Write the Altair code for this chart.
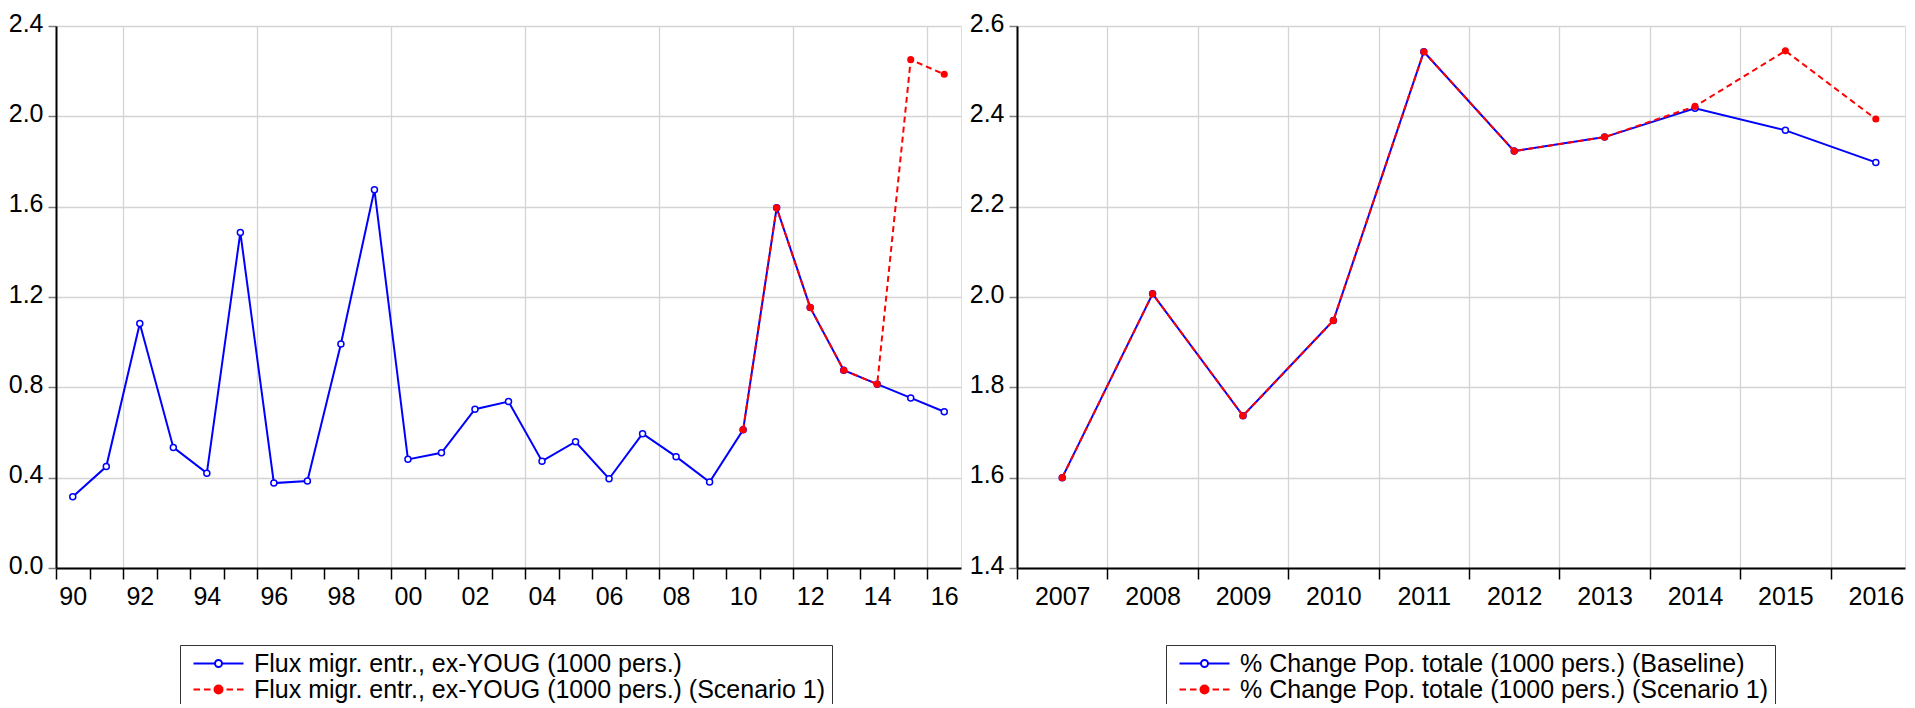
import altair as alt
import pandas as pd

# ---------------- data ----------------
left_years = list(range(1990, 2017))
flux_base = [0.315, 0.449, 1.083, 0.534, 0.420, 1.486, 0.376, 0.385, 0.992, 1.675,
             0.481, 0.510, 0.703, 0.737, 0.473, 0.559, 0.395, 0.595, 0.493, 0.381,
             0.612, 1.595, 1.154, 0.876, 0.814, 0.753, 0.692]
scen_left_years = list(range(2010, 2017))
flux_scen = [0.612, 1.595, 1.154, 0.876, 0.814, 2.251, 2.186]

right_years = list(range(2007, 2017))
pop_base = [1.600, 2.007, 1.737, 1.948, 2.543, 2.323, 2.354, 2.418, 2.369, 2.298]
pop_scen = [1.600, 2.007, 1.737, 1.948, 2.543, 2.323, 2.354, 2.422, 2.545, 2.394]

left_labels = ["Flux migr. entr., ex-YOUG (1000 pers.)",
               "Flux migr. entr., ex-YOUG (1000 pers.) (Scenario 1)"]
right_labels = ["% Change Pop. totale (1000 pers.) (Baseline)",
                "% Change Pop. totale (1000 pers.) (Scenario 1)"]

left_yticks = [0.0, 0.4, 0.8, 1.2, 1.6, 2.0, 2.4]
right_yticks = [1.4, 1.6, 1.8, 2.0, 2.2, 2.4, 2.6]

BLUE = "#0000ff"
RED = "#ff0000"
GRID = "#d4d4d4"
FONT = "Liberation Sans"

# legend symbols (line + marker), custom SVG paths
SYM_BASE = "M-5,0L-0.7,0M0.7,0L5,0M-0.7,0A0.7,0.7 0 1,0 0.7,0A0.7,0.7 0 1,0 -0.7,0Z"
SYM_SCEN = ("M-5,0L-3.7,0M-2.9,0L-1.6,0M1.6,0L2.9,0M3.7,0L5,0"
            "M-0.8,0A0.8,0.8 0 1,0 0.8,0A0.8,0.8 0 1,0 -0.8,0Z")


def panel(years_b, vals_b, years_s, vals_s, labels, xdom, xaxis, yticks, width, height, lx, ly):
    dfb = pd.DataFrame({"year": years_b, "value": vals_b})
    dfs = pd.DataFrame({"year": years_s, "value": vals_s})
    xs = alt.Scale(domain=xdom, nice=False, zero=False)
    ys = alt.Scale(domain=[yticks[0], yticks[-1]], nice=False, zero=False)
    yaxis = alt.Axis(values=yticks, format=".1f", title=None, tickSize=8, tickColor="#808080",
                     tickWidth=1.5, labelPadding=5, labelFontSize=25, labelFont=FONT,
                     labelColor="black", labelFlush=False, labelOverlap=False, labelOffset=-3,
                     domainColor="black", domainWidth=2, grid=True, gridColor=GRID, gridWidth=1.3)
    X = alt.X("xpos:Q", scale=xs, axis=xaxis)
    Y = alt.Y("value:Q", scale=ys, axis=yaxis)

    base_line = alt.Chart(dfb).transform_calculate(xpos="datum.year + 0.5").mark_line(
        color=BLUE, strokeWidth=2).encode(x=X, y=Y)
    base_pts = alt.Chart(dfb).transform_calculate(xpos="datum.year + 0.5").mark_point(
        shape="circle", filled=True, fill="white", stroke=BLUE, strokeWidth=1.5,
        size=36, opacity=1).encode(x=X, y=Y)
    scen_line = alt.Chart(dfs).transform_calculate(xpos="datum.year + 0.5").mark_line(
        color=RED, strokeWidth=2, strokeDash=[6, 4]).encode(x=X, y=Y)
    scen_pts = alt.Chart(dfs).transform_calculate(xpos="datum.year + 0.5").mark_circle(
        color=RED, size=50, opacity=1).encode(x=X, y=Y)

    leg_df = pd.DataFrame({"series": labels, "year": [years_b[0]] * 2, "value": [yticks[0]] * 2})
    legend = alt.Legend(title=None, orient="none", legendX=lx, legendY=ly, direction="vertical",
                        strokeColor="#333333", fillColor="white", padding=6,
                        labelFontSize=25, labelFont=FONT, labelColor="black", labelLimit=2000,
                        symbolSize=100, symbolStrokeWidth=2, symbolOffset=20, labelOffset=23,
                        rowPadding=0)
    leg_layer = alt.Chart(leg_df).transform_filter("false").transform_calculate(
        xpos="datum.year + 0.5").mark_point(opacity=1, filled=True).encode(
        x=X, y=Y,
        shape=alt.Shape("series:N", scale=alt.Scale(domain=labels, range=[SYM_BASE, SYM_SCEN]),
                        legend=legend),
        stroke=alt.Stroke("series:N", scale=alt.Scale(domain=labels, range=[BLUE, RED]),
                          legend=legend),
        fill=alt.Fill("series:N", scale=alt.Scale(domain=labels, range=["white", RED]),
                      legend=legend),
    )
    return alt.layer(base_line, base_pts, scen_line, scen_pts, leg_layer).properties(
        width=width, height=height)


W_LEFT = 905
W_RIGHT = 888
H = 542
left_year_px = W_LEFT / 27.0
right_year_px = 90.4

left_xaxis = alt.Axis(values=list(range(1990, 2017)),
                      labelExpr="datum.value % 2 == 0 ? format(datum.value % 100, '02d') : ''",
                      labelOffset=left_year_px / 2, title=None, tickSize=11, tickColor="black",
                      tickWidth=1.5, labelPadding=5, labelFontSize=25, labelFont=FONT,
                      labelColor="black", labelFlush=False, labelOverlap=False,
                      domainColor="black", domainWidth=2, grid=True, gridColor=GRID, gridWidth=1.3,
                      gridOpacity={"condition": {"test": "datum.value % 4 == 0", "value": 1},
                                   "value": 0})
right_xaxis = alt.Axis(values=list(range(2007, 2017)), format="d",
                       labelOffset=right_year_px / 2, title=None, tickSize=11, tickColor="black",
                       tickWidth=1.5, labelPadding=5, labelFontSize=25, labelFont=FONT,
                       labelColor="black", labelFlush=False, labelOverlap=False,
                       domainColor="black", domainWidth=2, grid=True, gridColor=GRID, gridWidth=1.3)

left = panel(left_years, flux_base, scen_left_years, flux_scen, left_labels,
             [1990, 2017], left_xaxis, left_yticks, W_LEFT, H, 124, 619)
right = panel(right_years, pop_base, right_years, pop_scen, right_labels,
              [2007, 2007 + W_RIGHT / right_year_px], right_xaxis, right_yticks, W_RIGHT, H, 149, 619)

chart = alt.hconcat(left, right, spacing=6).resolve_scale(
    shape="independent", stroke="independent", fill="independent"
).resolve_legend(
    shape="independent", stroke="independent", fill="independent"
).properties(
    padding={"left": -1, "top": 2, "right": 0, "bottom": -6}
).configure_view(stroke="black", strokeWidth=2).configure(font=FONT, background="white")

chart.save("out.html", embed_options={"renderer": "svg", "actions": False})
